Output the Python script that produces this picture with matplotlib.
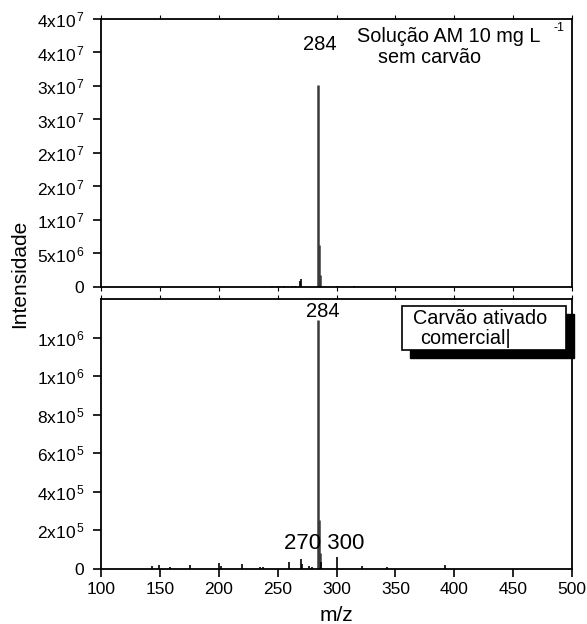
import matplotlib
matplotlib.use("Agg")
import matplotlib.pyplot as plt
from matplotlib.patches import Rectangle

plt.rcParams['font.family'] = ['Liberation Sans', 'DejaVu Sans']
plt.rcParams['mathtext.fontset'] = 'custom'
plt.rcParams['mathtext.rm'] = 'Liberation Sans'
plt.rcParams['mathtext.it'] = 'Liberation Sans'

# ---- data ----
mz_top = [245, 250, 255, 262, 265, 269, 270, 284, 285, 286, 287, 300, 315]
int_top = [8e4, 8e4, 8e4, 1e5, 1e5, 0.85e6, 1.2e6, 3.01e7, 6.2e6, 1.75e6, 2e5, 1.5e5, 1.5e5]

mz_bot = [143, 149, 159, 176, 200, 202, 220, 235, 238, 260, 270, 271, 277, 279,
          284, 285, 286, 287, 300, 322, 343, 392]
int_bot = [1.3e4, 2e4, 1e4, 2e4, 3e4, 1.5e4, 2.6e4, 1e4, 1e4, 3.8e4, 5.2e4, 2.5e4, 1.7e4, 1e4,
           1.29e6, 2.53e5, 8.3e4, 3.8e4, 6e4, 1.7e4, 1.2e4, 2e4]

xticks = [100, 150, 200, 250, 300, 350, 400, 450, 500]
yticks_top = [0, 5e6, 1e7, 1.5e7, 2e7, 2.5e7, 3e7, 3.5e7, 4e7]
ylabels_top = ['0', '5x10$^{\\,6}$', '1x10$^{\\,7}$', '2x10$^{\\,7}$', '2x10$^{\\,7}$',
               '3x10$^{\\,7}$', '3x10$^{\\,7}$', '4x10$^{\\,7}$', '4x10$^{\\,7}$']
yticks_bot = [0, 2e5, 4e5, 6e5, 8e5, 1e6, 1.2e6]
ylabels_bot = ['0', '2x10$^{\\,5}$', '4x10$^{\\,5}$', '6x10$^{\\,5}$', '8x10$^{\\,5}$',
               '1x10$^{\\,6}$', '1x10$^{\\,6}$']

W, H = 587, 624
fig = plt.figure(figsize=(W / 100, H / 100), dpi=100)
L, R = 101, 572
ax1 = fig.add_axes([L / W, 1 - 287 / H, (R - L) / W, (287 - 19) / H])
ax2 = fig.add_axes([L / W, 1 - 569 / H, (R - L) / W, (569 - 299) / H])

main = {284, 285, 286}
for ax, mz, val in [(ax1, mz_top, int_top), (ax2, mz_bot, int_bot)]:
    for m, v in zip(mz, val):
        if m in main:
            ax.vlines(m, 0, v, color='#3a3a3a', lw=1.8)
        else:
            ax.vlines(m, 0, v, color='black', lw=1.2)
    ax.set_xlim(100, 500)
    ax.set_xticks(xticks)
    for s in ax.spines.values():
        s.set_linewidth(1.3)
    ax.tick_params(axis='y', direction='out', length=6, width=1.2, labelsize=12.5, pad=6)
    ax.tick_params(axis='x', direction='out', length=6, width=1.2, labelsize=12.5, top=True)

ax1.set_ylim(0, 4e7)
ax1.set_yticks(yticks_top)
ax1.set_yticklabels(ylabels_top)
ax1.tick_params(axis='x', labelbottom=False, length=3, width=0.8)

ax2.set_ylim(0, 1.4e6)
ax2.set_yticks(yticks_bot)
ax2.set_yticklabels(ylabels_bot)
ax2.set_xticklabels([str(x) for x in xticks])
ax2.tick_params(axis='x', which='major', top=True)
ax2.set_xlabel('m/z', fontsize=15, labelpad=6)
for t in ax2.xaxis.get_major_ticks():
    t.tick2line.set_markersize(3)
    t.tick2line.set_markeredgewidth(0.8)

fig.text(20 / W, 1 - 274 / H, 'Intensidade', rotation=90, ha='center', va='center', fontsize=15)

# annotations top
ax1.text(0.5435, 0.933, 'Solução AM 10 mg L', transform=ax1.transAxes, fontsize=14.3,
         ha='left', va='center')
ax1.text(0.960, 0.966, '-1', transform=ax1.transAxes, fontsize=9, ha='left', va='center')
ax1.text(0.588, 0.858, 'sem carvão', transform=ax1.transAxes, fontsize=14.3,
         ha='left', va='center')
ax1.text(0.465, 0.903, '284', transform=ax1.transAxes, fontsize=14.5, ha='center', va='center')

# annotations bottom
ax2.text(0.471, 0.952, '284', transform=ax2.transAxes, fontsize=14.5, ha='center', va='center')
ax2.text(0.473, 0.096, '270 300', transform=ax2.transAxes, fontsize=16, ha='center', va='center')

bx0, bx1 = (402 - L) / (R - L), (566 - L) / (R - L)
by1, by0 = (569 - 306) / 270, (569 - 350) / 270
dx, dy = 8 / (R - L), 8 / 270
ax2.add_patch(Rectangle((bx0 + dx, by0 - dy), bx1 - bx0, by1 - by0, transform=ax2.transAxes,
                        facecolor='black', edgecolor='black', clip_on=False, zorder=5))
ax2.add_patch(Rectangle((bx0, by0), bx1 - bx0, by1 - by0, transform=ax2.transAxes,
                        facecolor='white', edgecolor='black', lw=1.2, clip_on=False, zorder=6))
ax2.text((413 - L) / (R - L), (569 - 318) / 270, 'Carvão ativado', transform=ax2.transAxes,
         fontsize=14.3, ha='left', va='center', zorder=7)
ax2.text((420 - L) / (R - L), (569 - 339) / 270, 'comercial|', transform=ax2.transAxes,
         fontsize=14.3, ha='left', va='center', zorder=7)

fig.savefig('out.png', dpi=100)
